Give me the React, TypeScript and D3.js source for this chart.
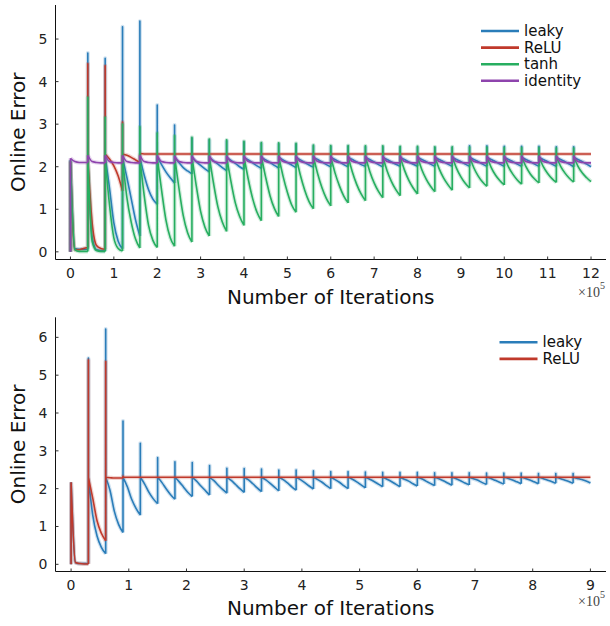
import React from "react";
import * as d3 from "d3";

// ---------- shared ----------
const FRACS = [0, 0.25, 0.5, 0.75, 1];
const COLORS = { leaky: "#2a7db9", relu: "#c0392b", tanh: "#27ae60", identity: "#8e44ad" };

// ---------- top panel data (x in units of 1e5 iterations) ----------
const topStarts = [0, 0.4, 0.8, 1.2, 1.6, 2.0, 2.4, 2.8, 3.2, 3.6, 4.0, 4.4, 4.8, 5.2, 5.6, 6.0, 6.4, 6.8, 7.2, 7.6, 8.0, 8.4, 8.8, 9.2, 9.6, 10.0, 10.4, 10.8, 11.2, 11.6];
const topEnd = 12;
const topXTicks = [0, 1, 2, 3, 4, 5, 6, 7, 8, 9, 10, 11, 12];
const topYTicks = [0, 1, 2, 3, 4, 5];

const leakyTopPeaks = [2.15, 4.67, 4.55, 5.29, 5.42, 3.45, 2.98, 2.67, 2.63, 2.61, 2.58, 2.55, 2.54, 2.53, 2.49, 2.48, 2.48, 2.47, 2.47, 2.46, 2.46, 2.45, 2.45, 2.49, 2.49, 2.48, 2.48, 2.48, 2.47, 2.47];
const leakyTopDecay = [
  [2.15, 0.08, 0.06, 0.06, 0.06],
  [2.2, 0.35, 0.05, 0.03, 0.02],
  [2.25, 1.5, 0.68, 0.25, 0.07],
  [2.22, 1.75, 1.25, 0.75, 0.37],
  [2.22, 1.8, 1.46, 1.24, 1.12],
  [2.24, 2.05, 1.88, 1.74, 1.62],
  [2.22, 2.1, 1.98, 1.9, 1.83],
  [2.22, 2.12, 2.03, 1.95, 1.88],
  [2.22, 2.14, 2.06, 1.98, 1.91],
  [2.22, 2.15, 2.08, 2.0, 1.94],
  [2.22, 2.16, 2.09, 2.02, 1.96],
  [2.22, 2.16, 2.1, 2.03, 1.97],
  [2.22, 2.16, 2.1, 2.04, 1.98],
  [2.22, 2.16, 2.1, 2.04, 1.99],
  [2.22, 2.17, 2.11, 2.05, 2.0],
  [2.22, 2.17, 2.11, 2.05, 2.0],
  [2.22, 2.17, 2.11, 2.05, 2.01],
  [2.22, 2.17, 2.11, 2.05, 2.0],
  [2.22, 2.17, 2.11, 2.06, 2.01],
  [2.22, 2.17, 2.11, 2.06, 2.01],
  [2.22, 2.17, 2.12, 2.06, 2.01],
  [2.22, 2.17, 2.12, 2.06, 2.01],
  [2.22, 2.17, 2.12, 2.06, 2.01],
  [2.22, 2.17, 2.12, 2.06, 2.01],
  [2.22, 2.17, 2.12, 2.06, 2.01],
  [2.22, 2.17, 2.12, 2.06, 2.01],
  [2.22, 2.17, 2.12, 2.06, 2.01],
  [2.22, 2.17, 2.12, 2.06, 2.01],
  [2.22, 2.17, 2.12, 2.06, 2.0],
  [2.22, 2.17, 2.12, 2.06, 2.0],
];

const reluTopPeaks = [2.12, 4.42, 4.37, 3.05, 2.31, 2.3, 2.3, 2.3, 2.3, 2.3, 2.3, 2.3, 2.3, 2.3, 2.3, 2.3, 2.3, 2.3, 2.3, 2.3, 2.3, 2.3, 2.3, 2.3, 2.3, 2.3, 2.3, 2.3, 2.3, 2.3];
const reluTopDecay = [
  [2.12, 0.05, 0.05, 0.08, 0.1],
  [2.2, 0.68, 0.15, 0.08, 0.06],
  [2.3, 2.18, 2.02, 1.78, 1.43],
  [2.3, 2.27, 2.22, 2.16, 2.1],
  [2.31, 2.3, 2.3, 2.3, 2.3],
  [2.3, 2.3, 2.3, 2.3, 2.3],
  [2.3, 2.3, 2.3, 2.3, 2.3],
  [2.3, 2.3, 2.3, 2.3, 2.3],
  [2.3, 2.3, 2.3, 2.3, 2.3],
  [2.3, 2.3, 2.3, 2.3, 2.3],
  [2.3, 2.3, 2.3, 2.3, 2.3],
  [2.3, 2.3, 2.3, 2.3, 2.3],
  [2.3, 2.3, 2.3, 2.3, 2.3],
  [2.3, 2.3, 2.3, 2.3, 2.3],
  [2.3, 2.3, 2.3, 2.3, 2.3],
  [2.3, 2.3, 2.3, 2.3, 2.3],
  [2.3, 2.3, 2.3, 2.3, 2.3],
  [2.3, 2.3, 2.3, 2.3, 2.3],
  [2.3, 2.3, 2.3, 2.3, 2.3],
  [2.3, 2.3, 2.3, 2.3, 2.3],
  [2.3, 2.3, 2.3, 2.3, 2.3],
  [2.3, 2.3, 2.3, 2.3, 2.3],
  [2.3, 2.3, 2.3, 2.3, 2.3],
  [2.3, 2.3, 2.3, 2.3, 2.3],
  [2.3, 2.3, 2.3, 2.3, 2.3],
  [2.3, 2.3, 2.3, 2.3, 2.3],
  [2.3, 2.3, 2.3, 2.3, 2.3],
  [2.3, 2.3, 2.3, 2.3, 2.3],
  [2.3, 2.3, 2.3, 2.3, 2.3],
  [2.3, 2.3, 2.3, 2.3, 2.3],
];

const tanhTopPeaks = [2.15, 3.63, 3.16, 3.0, 2.94, 2.79, 2.73, 2.69, 2.65, 2.63, 2.6, 2.57, 2.56, 2.55, 2.51, 2.5, 2.5, 2.49, 2.49, 2.48, 2.48, 2.47, 2.47, 2.46, 2.46, 2.45, 2.45, 2.45, 2.44, 2.44];
const tanhTopDecay = [
  [2.15, 0.05, 0.01, 0.01, 0.01],
  [2.2, 0.25, 0.03, 0.01, 0.01],
  [2.2, 1.1, 0.33, 0.08, 0.02],
  [2.2, 1.28, 0.7, 0.3, 0.09],
  [2.2, 1.32, 0.62, 0.27, 0.1],
  [2.22, 1.45, 0.75, 0.33, 0.13],
  [2.24, 1.5, 0.85, 0.45, 0.23],
  [2.24, 1.55, 0.95, 0.58, 0.37],
  [2.24, 1.6, 1.05, 0.7, 0.48],
  [2.24, 1.65, 1.15, 0.83, 0.62],
  [2.24, 1.7, 1.25, 0.93, 0.73],
  [2.24, 1.75, 1.32, 1.02, 0.83],
  [2.24, 1.78, 1.4, 1.1, 0.93],
  [2.24, 1.8, 1.45, 1.18, 1.01],
  [2.24, 1.83, 1.5, 1.25, 1.08],
  [2.24, 1.85, 1.55, 1.31, 1.15],
  [2.24, 1.87, 1.58, 1.36, 1.2],
  [2.24, 1.89, 1.62, 1.42, 1.27],
  [2.24, 1.9, 1.65, 1.46, 1.32],
  [2.24, 1.92, 1.68, 1.5, 1.36],
  [2.24, 1.93, 1.71, 1.54, 1.41],
  [2.24, 1.95, 1.74, 1.58, 1.45],
  [2.24, 1.96, 1.76, 1.61, 1.5],
  [2.24, 1.97, 1.78, 1.64, 1.54],
  [2.24, 1.98, 1.8, 1.67, 1.57],
  [2.24, 1.99, 1.82, 1.69, 1.59],
  [2.24, 2.0, 1.83, 1.71, 1.62],
  [2.24, 2.0, 1.84, 1.72, 1.63],
  [2.24, 2.01, 1.85, 1.73, 1.64],
  [2.24, 2.01, 1.85, 1.74, 1.65],
];

const identityTopPeaks = [2.2, 2.27, 2.27, 2.27, 2.27, 2.27, 2.26, 2.26, 2.26, 2.26, 2.26, 2.26, 2.26, 2.26, 2.26, 2.26, 2.26, 2.26, 2.26, 2.26, 2.26, 2.26, 2.26, 2.26, 2.26, 2.26, 2.26, 2.26, 2.26, 2.26];
const identityTopDecay = [
  [2.2, 2.12, 2.1, 2.1, 2.1],
  [2.27, 2.12, 2.1, 2.09, 2.09],
  [2.27, 2.12, 2.1, 2.09, 2.09],
  [2.27, 2.12, 2.1, 2.09, 2.09],
  [2.27, 2.12, 2.1, 2.09, 2.09],
  [2.27, 2.12, 2.1, 2.09, 2.09],
  [2.26, 2.12, 2.1, 2.09, 2.09],
  [2.26, 2.12, 2.1, 2.09, 2.09],
  [2.26, 2.12, 2.1, 2.09, 2.09],
  [2.26, 2.12, 2.1, 2.09, 2.09],
  [2.26, 2.12, 2.1, 2.09, 2.09],
  [2.26, 2.12, 2.1, 2.09, 2.09],
  [2.26, 2.12, 2.1, 2.09, 2.09],
  [2.26, 2.12, 2.1, 2.09, 2.09],
  [2.26, 2.12, 2.1, 2.09, 2.09],
  [2.26, 2.12, 2.1, 2.09, 2.09],
  [2.26, 2.12, 2.1, 2.09, 2.09],
  [2.26, 2.12, 2.1, 2.09, 2.09],
  [2.26, 2.12, 2.1, 2.09, 2.09],
  [2.26, 2.12, 2.1, 2.09, 2.09],
  [2.26, 2.12, 2.1, 2.09, 2.09],
  [2.26, 2.12, 2.1, 2.09, 2.09],
  [2.26, 2.12, 2.1, 2.09, 2.09],
  [2.26, 2.12, 2.1, 2.09, 2.09],
  [2.26, 2.12, 2.1, 2.09, 2.09],
  [2.26, 2.12, 2.1, 2.09, 2.09],
  [2.26, 2.12, 2.1, 2.09, 2.09],
  [2.26, 2.12, 2.1, 2.09, 2.09],
  [2.26, 2.12, 2.1, 2.09, 2.09],
  [2.26, 2.12, 2.1, 2.09, 2.09],
];

// ---------- bottom panel data ----------
const botStarts = [0, 0.3, 0.6, 0.9, 1.2, 1.5, 1.8, 2.1, 2.4, 2.7, 3.0, 3.3, 3.6, 3.9, 4.2, 4.5, 4.8, 5.1, 5.4, 5.7, 6.0, 6.3, 6.6, 6.9, 7.2, 7.5, 7.8, 8.1, 8.4, 8.7];
const botEnd = 9;
const botXTicks = [0, 1, 2, 3, 4, 5, 6, 7, 8, 9];
const botYTicks = [0, 1, 2, 3, 4, 5, 6];

const leakyBotPeaks = [2.17, 5.45, 6.22, 3.79, 3.2, 2.82, 2.71, 2.69, 2.61, 2.54, 2.53, 2.52, 2.49, 2.49, 2.47, 2.45, 2.45, 2.44, 2.43, 2.43, 2.43, 2.42, 2.42, 2.42, 2.41, 2.41, 2.41, 2.4, 2.4, 2.4];
const leakyBotDecay = [
  [2.17, 0.05, 0.02, 0.02, 0.02],
  [2.3, 1.3, 0.75, 0.45, 0.28],
  [2.3, 1.95, 1.4, 1.05, 0.84],
  [2.3, 2.05, 1.72, 1.48, 1.3],
  [2.3, 2.12, 1.9, 1.73, 1.6],
  [2.3, 2.16, 1.99, 1.84, 1.72],
  [2.3, 2.18, 2.04, 1.9, 1.79],
  [2.3, 2.2, 2.07, 1.95, 1.83],
  [2.3, 2.21, 2.09, 1.98, 1.88],
  [2.3, 2.22, 2.11, 2.0, 1.9],
  [2.3, 2.23, 2.13, 2.02, 1.92],
  [2.3, 2.23, 2.14, 2.04, 1.94],
  [2.3, 2.24, 2.15, 2.05, 1.96],
  [2.3, 2.24, 2.16, 2.07, 1.99],
  [2.3, 2.24, 2.17, 2.08, 2.0],
  [2.3, 2.24, 2.17, 2.08, 2.0],
  [2.3, 2.25, 2.18, 2.1, 2.02],
  [2.3, 2.25, 2.19, 2.12, 2.05],
  [2.3, 2.25, 2.19, 2.12, 2.05],
  [2.3, 2.25, 2.2, 2.13, 2.07],
  [2.3, 2.26, 2.2, 2.14, 2.08],
  [2.3, 2.26, 2.21, 2.15, 2.09],
  [2.3, 2.26, 2.21, 2.15, 2.1],
  [2.3, 2.26, 2.22, 2.16, 2.11],
  [2.3, 2.27, 2.22, 2.17, 2.12],
  [2.3, 2.27, 2.23, 2.18, 2.13],
  [2.3, 2.27, 2.23, 2.18, 2.13],
  [2.3, 2.27, 2.23, 2.19, 2.14],
  [2.3, 2.27, 2.23, 2.19, 2.14],
  [2.3, 2.27, 2.24, 2.2, 2.15],
];

const reluBotPeaks = [2.17, 5.4, 5.36, 2.33, 2.3, 2.3, 2.3, 2.3, 2.3, 2.3, 2.3, 2.3, 2.3, 2.3, 2.3, 2.3, 2.3, 2.3, 2.3, 2.3, 2.3, 2.3, 2.3, 2.3, 2.3, 2.3, 2.3, 2.3, 2.3, 2.3];
const reluBotDecay = [
  [2.17, 0.05, 0.02, 0.01, 0.01],
  [2.3, 1.75, 1.15, 0.82, 0.62],
  [2.3, 2.29, 2.28, 2.28, 2.28],
  [2.3, 2.3, 2.3, 2.3, 2.3],
  [2.3, 2.3, 2.3, 2.3, 2.3],
  [2.3, 2.3, 2.3, 2.3, 2.3],
  [2.3, 2.3, 2.3, 2.3, 2.3],
  [2.3, 2.3, 2.3, 2.3, 2.3],
  [2.3, 2.3, 2.3, 2.3, 2.3],
  [2.3, 2.3, 2.3, 2.3, 2.3],
  [2.3, 2.3, 2.3, 2.3, 2.3],
  [2.3, 2.3, 2.3, 2.3, 2.3],
  [2.3, 2.3, 2.3, 2.3, 2.3],
  [2.3, 2.3, 2.3, 2.3, 2.3],
  [2.3, 2.3, 2.3, 2.3, 2.3],
  [2.3, 2.3, 2.3, 2.3, 2.3],
  [2.3, 2.3, 2.3, 2.3, 2.3],
  [2.3, 2.3, 2.3, 2.3, 2.3],
  [2.3, 2.3, 2.3, 2.3, 2.3],
  [2.3, 2.3, 2.3, 2.3, 2.3],
  [2.3, 2.3, 2.3, 2.3, 2.3],
  [2.3, 2.3, 2.3, 2.3, 2.3],
  [2.3, 2.3, 2.3, 2.3, 2.3],
  [2.3, 2.3, 2.3, 2.3, 2.3],
  [2.3, 2.3, 2.3, 2.3, 2.3],
  [2.3, 2.3, 2.3, 2.3, 2.3],
  [2.3, 2.3, 2.3, 2.3, 2.3],
  [2.3, 2.3, 2.3, 2.3, 2.3],
  [2.3, 2.3, 2.3, 2.3, 2.3],
  [2.3, 2.3, 2.3, 2.3, 2.3],
];

// ---------- rendering ----------
type Series = { name: string; color: string; peaks: number[]; decay: number[][] };

function buildPath(
  starts: number[],
  end: number,
  s: Series,
  x: d3.ScaleLinear<number, number>,
  y: d3.ScaleLinear<number, number>
) {
  const straight = d3.line();
  const smooth = d3.line().curve(d3.curveMonotoneX);
  let d = "";
  let prev = 0;
  starts.forEach((st, i) => {
    const en = i + 1 < starts.length ? starts[i + 1] : end;
    const dec = s.decay[i];
    d += straight([
      [x(st), y(prev)],
      [x(st), y(s.peaks[i])],
      [x(st), y(dec[0])],
    ]);
    const pts = dec.map((v, k) => [x(st + FRACS[k] * (en - st)), y(v)] as [number, number]);
    d += smooth(pts);
    prev = dec[dec.length - 1];
  });
  return d;
}

type PanelProps = {
  top: number;
  bottom: number;
  left: number;
  right: number;
  xDomain: [number, number];
  yDomain: [number, number];
  xTicks: number[];
  yTicks: number[];
  starts: number[];
  end: number;
  series: Series[];
  legendX: number;
  legendY: number;
  xLabelY: number;
  expX: number;
  expY: number;
};

const FONT = "DejaVu Sans, sans-serif";

function Panel(p: PanelProps) {
  const x = d3.scaleLinear().domain(p.xDomain).range([p.left, p.right]);
  const y = d3.scaleLinear().domain(p.yDomain).range([p.bottom, p.top]);
  const cy = (p.top + p.bottom) / 2;
  const cx = (p.left + p.right) / 2;
  return (
    <g>
      {p.series.map((s) => {
        const d = buildPath(p.starts, p.end, s, x, y);
        return (
          <g key={s.name}>
            <path d={d} fill="none" stroke={s.color} strokeOpacity={0.22} strokeWidth={4} strokeLinejoin="round" />
            <path d={d} fill="none" stroke={s.color} strokeWidth={1.6} strokeLinejoin="round" />
          </g>
        );
      })}
      {/* axes */}
      <line x1={p.left} x2={p.left} y1={p.top} y2={p.bottom} stroke="#111" strokeWidth={1} />
      <line x1={p.left} x2={p.right} y1={p.bottom} y2={p.bottom} stroke="#111" strokeWidth={1} />
      {p.yTicks.map((t) => (
        <g key={"y" + t}>
          <line x1={p.left} x2={p.left + 3} y1={y(t)} y2={y(t)} stroke="#333" strokeWidth={1} />
          <text x={p.left - 8} y={y(t) + 5} textAnchor="end" fontSize={14} fontFamily={FONT} fill="#222">
            {t}
          </text>
        </g>
      ))}
      {p.xTicks.map((t) => (
        <g key={"x" + t}>
          <line x1={x(t)} x2={x(t)} y1={p.bottom} y2={p.bottom - 3} stroke="#333" strokeWidth={1} />
          <text x={x(t)} y={p.bottom + 18.5} textAnchor="middle" fontSize={14} fontFamily={FONT} fill="#222">
            {t}
          </text>
        </g>
      ))}
      <text x={cx} y={p.xLabelY} textAnchor="middle" fontSize={20} fontFamily={FONT} fill="#111">
        Number of Iterations
      </text>
      <text
        transform={`translate(25,${cy}) rotate(-90)`}
        textAnchor="middle"
        fontSize={20}
        fontFamily={FONT}
        fill="#111"
      >
        Online Error
      </text>
      <text x={p.expX} y={p.expY} fontSize={14} fontFamily="Liberation Serif, serif" fill="#444">
        ×10
        <tspan dy={-8} fontSize={10}>
          5
        </tspan>
      </text>
      {/* legend */}
      {p.series.map((s, i) => (
        <g key={"lg" + s.name}>
          <line
            x1={p.legendX}
            x2={p.legendX + 38}
            y1={p.legendY + i * 16.6}
            y2={p.legendY + i * 16.6}
            stroke={s.color}
            strokeWidth={2.6}
          />
          <text x={p.legendX + 43} y={p.legendY + i * 16.6 + 5} fontSize={15} fontFamily={FONT} fill="#111">
            {s.name}
          </text>
        </g>
      ))}
    </g>
  );
}

export default function App() {
  const topSeries: Series[] = [
    { name: "leaky", color: COLORS.leaky, peaks: leakyTopPeaks, decay: leakyTopDecay },
    { name: "ReLU", color: COLORS.relu, peaks: reluTopPeaks, decay: reluTopDecay },
    { name: "tanh", color: COLORS.tanh, peaks: tanhTopPeaks, decay: tanhTopDecay },
    { name: "identity", color: COLORS.identity, peaks: identityTopPeaks, decay: identityTopDecay },
  ];
  const botSeries: Series[] = [
    { name: "leaky", color: COLORS.leaky, peaks: leakyBotPeaks, decay: leakyBotDecay },
    { name: "ReLU", color: COLORS.relu, peaks: reluBotPeaks, decay: reluBotDecay },
  ];
  return (
    <svg
      width={610}
      height={626}
      style={{ position: "absolute", left: 0, top: 0, background: "#fff" }}
    >
      <rect width={610} height={626} fill="#fff" />
      <Panel
        top={5}
        bottom={259.5}
        left={55.5}
        right={606}
        xDomain={[-0.345, 12.345]}
        yDomain={[-0.18, 5.8]}
        xTicks={topXTicks}
        yTicks={topYTicks}
        starts={topStarts}
        end={topEnd}
        series={topSeries}
        legendX={481}
        legendY={31}
        xLabelY={304}
        expX={578}
        expY={296.5}
      />
      <Panel
        top={317.3}
        bottom={571.5}
        left={55.5}
        right={606}
        xDomain={[-0.27, 9.27]}
        yDomain={[-0.19, 6.53]}
        xTicks={botXTicks}
        yTicks={botYTicks}
        starts={botStarts}
        end={botEnd}
        series={botSeries}
        legendX={499.5}
        legendY={342.3}
        xLabelY={615}
        expX={578}
        expY={606}
      />
    </svg>
  );
}
